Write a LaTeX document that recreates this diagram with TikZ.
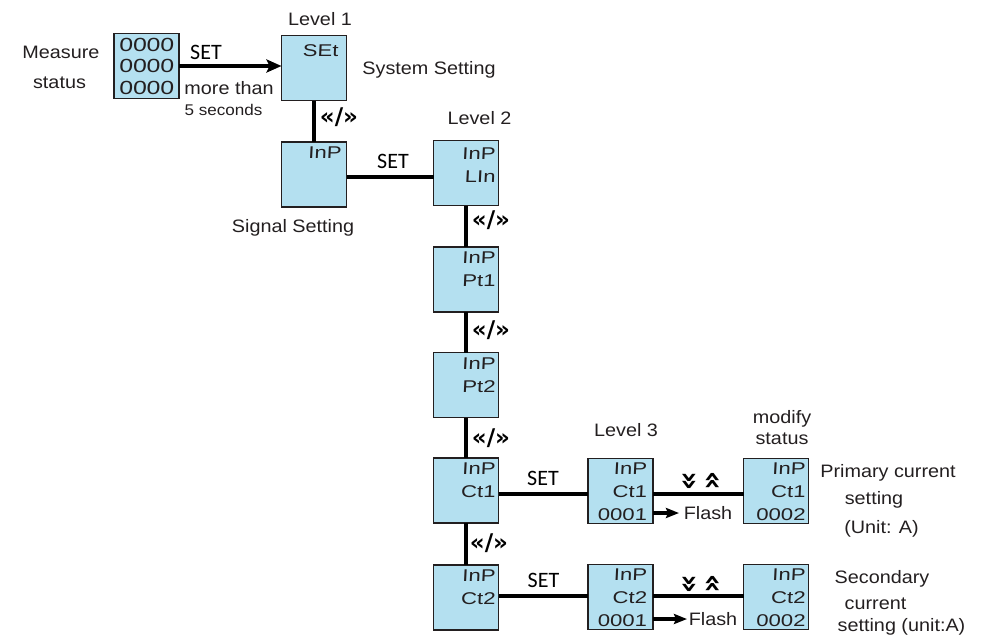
\documentclass[tikz,border=0pt]{standalone}
\usepackage{fontspec}
\setmainfont[FakeStretch=1.1]{Liberation Sans}
\newfontfamily\setfnt{Carlito}
\newfontfamily\segfnt[FakeStretch=1.3,FakeSlant=0.05]{Liberation Sans}
\newfontfamily\chevfnt{DejaVu Sans}
\usetikzlibrary{arrows.meta}
\definecolor{lcd}{RGB}{180,224,240}
\definecolor{ink}{RGB}{35,31,32}
\begin{document}
\begin{tikzpicture}[x=1pt,y=-1pt,
  disp/.style={draw=ink, line width=1.8pt, fill=lcd, minimum width=65pt, minimum height=65pt, inner sep=0pt, outer sep=0pt},
  seg/.style={font=\segfnt\fontsize{17}{23}\selectfont, inner sep=0pt, align=right, anchor=north east, text=ink},
  conn/.style={line width=3.3pt, draw=black},
  lbl/.style={font=\fontsize{18}{20}\selectfont, inner sep=0pt, text=ink, text height=12.9pt, text depth=0pt},
  small/.style={font=\fontsize{15.5}{17}\selectfont, inner sep=0pt, text=ink, text height=11.1pt, text depth=0pt},
  setl/.style={font=\setfnt\fontsize{22}{24}\selectfont, inner sep=0pt, text=black, text height=14.2pt, text depth=0pt},
  nav/.style={font=\chevfnt\bfseries\fontsize{23}{25}\selectfont, inner sep=0pt, text=black},
  chev/.style={font=\chevfnt\bfseries\fontsize{30}{32}\selectfont, inner sep=0pt, text=black},
  tip/.style={-{Stealth[length=15pt,width=13pt,inset=3pt]}},
  ftip/.style={-{Stealth[length=13pt,width=10pt,inset=2pt]}}
]
\useasboundingbox (0,0) rectangle (991,635);

% display boxes
\node[disp] (meas) at (146.5,66) {};
\node[disp] (lv1)  at (314,68) {};
\node[disp] (inp)  at (314,174.5) {};
\node[disp] (lin)  at (466,173) {};
\node[disp] (pt1)  at (466,279.5) {};
\node[disp] (pt2)  at (466,385) {};
\node[disp] (ct1)  at (466,490.5) {};
\node[disp] (cta)  at (620.5,491) {};
\node[disp] (ctam) at (776,491) {};
\node[disp] (ct2)  at (466,597.5) {};
\node[disp] (ctb)  at (620.5,597) {};
\node[disp] (ctbm) at (776,597) {};

% display contents
\node[font=\segfnt\fontsize{19}{21.5}\selectfont, inner sep=0pt, align=right, text=ink] (measd) at (meas.center) {0000\\0000\\0000};
\node[seg] (lv1d) at ([xshift=-8pt,yshift=-9pt]lv1.north east) {SEt};
\node[seg] (inpd) at ([xshift=-5pt,yshift=-5pt]inp.north east) {InP};
\node[seg] (lind) at ([xshift=-3pt,yshift=-7pt]lin.north east) {InP\\LIn};
\node[seg] (pt1d) at ([xshift=-3pt,yshift=-5pt]pt1.north east) {InP\\Pt1};
\node[seg] (pt2d) at ([xshift=-3pt,yshift=-5pt]pt2.north east) {InP\\Pt2};
\node[seg] (ct1d) at ([xshift=-3pt,yshift=-5pt]ct1.north east) {InP\\Ct1};
\node[seg] (ctad) at ([xshift=-6pt,yshift=-4pt]cta.north east) {InP\\Ct1\\0001};
\node[seg] (ctamd) at ([xshift=-3pt,yshift=-4pt]ctam.north east) {InP\\Ct1\\0002};
\node[seg] (ct2d) at ([xshift=-3pt,yshift=-5pt]ct2.north east) {InP\\Ct2};
\node[seg] (ctbd) at ([xshift=-6pt,yshift=-4pt]ctb.north east) {InP\\Ct2\\0001};
\node[seg] (ctbmd) at ([xshift=-3pt,yshift=-4pt]ctbm.north east) {InP\\Ct2\\0002};

% connectors
\draw[conn,tip] (meas.east) -- (meas.east -| lv1.west);
\draw[conn] (lv1.south) -- (inp.north);
\draw[conn] ([yshift=-2.5pt]inp.east) -- ([yshift=-2.5pt]inp.east -| lin.west);
\draw[conn] (lin.south) -- (pt1.north);
\draw[conn] (pt1.south) -- (pt2.north);
\draw[conn] (pt2.south) -- (ct1.north);
\draw[conn] (ct1.south) -- (ct2.north);
\draw[conn] ([yshift=-3.5pt]ct1.east) -- ([yshift=-3.5pt]ct1.east -| cta.west);
\draw[conn] ([yshift=-3pt]cta.east) -- ([yshift=-3pt]cta.east -| ctam.west);
\draw[conn] ([yshift=1.5pt]ct2.east) -- ([yshift=1.5pt]ct2.east -| ctb.west);
\draw[conn] ([yshift=1pt]ctb.east) -- ([yshift=1pt]ctb.east -| ctbm.west);
\coordinate (fla) at (679,513);
\coordinate (flb) at (687,619);
\draw[conn,ftip] (cta.east |- fla) -- (fla);
\draw[conn,ftip] (ctb.east |- flb) -- (flb);

% labels
\node[lbl] (t1) at (61,52) {Measure};
\node[lbl] (t2) at (59.5,82) {status};
\node[setl] (s1) at (206,52) {SET};
\node[lbl] (t3) at (229,88) {more than};
\node[small] (t4) at (223.5,110) {5 seconds};
\node[lbl] (t5) at (320,19) {Level 1};
\node[lbl] (t6) at (429,68) {System Setting};
\node[nav] (n1) at (339,117) {«/»};
\node[lbl] (t7) at (479.5,118) {Level 2};
\node[setl] (s2) at (393,161) {SET};
\node[lbl] (t8) at (293,226) {Signal Setting};
\node[nav] (n2) at (491,220) {«/»};
\node[nav] (n3) at (491,330) {«/»};
\node[nav] (n4) at (491,438) {«/»};
\node[nav] (n5) at (489,543) {«/»};
\node[lbl] (t9) at (626,430) {Level 3};
\node[lbl] (t10) at (782,417) {modify};
\node[lbl] (t11) at (782,438) {status};
\node[setl] (s3) at (543,478) {SET};
\node[setl] (s4) at (543.5,580) {SET};
\node[chev,rotate=-90] (c1) at (688,481) {»};
\node[chev,rotate=90] (c2) at (714,481) {»};
\node[chev,rotate=-90] (c3) at (688,584) {»};
\node[chev,rotate=90] (c4) at (714,584) {»};
\node[lbl] (f1) at (708,513) {Flash};
\node[lbl] (f2) at (713,619) {Flash};
\node[lbl] (p1) at (888,471) {Primary current};
\node[lbl] (p2) at (874,498) {setting};
\node[lbl] (p3) at (881.5,527) {(Unit: A)};
\node[lbl] (q1) at (882,577) {Secondary};
\node[lbl] (q2) at (875.5,603) {current};
\node[lbl] (q3) at (901.5,625) {setting (unit:A)};
\end{tikzpicture}
\end{document}
